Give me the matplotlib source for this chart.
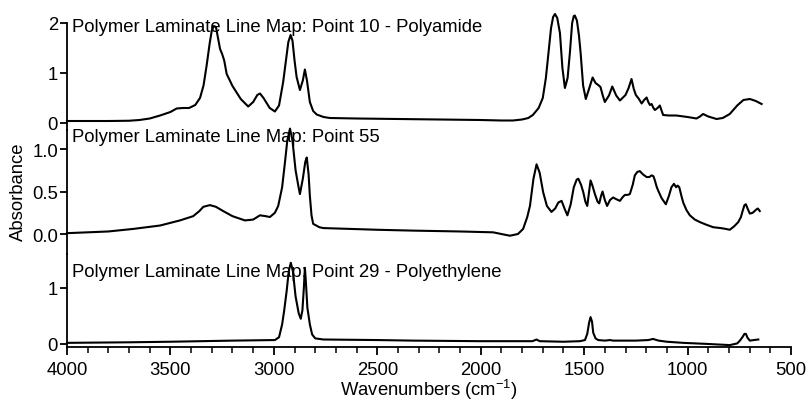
import numpy as np
import matplotlib.pyplot as plt
from matplotlib.ticker import MultipleLocator, FixedLocator, FormatStrFormatter

plt.rcParams['font.family'] = ['Liberation Sans', 'DejaVu Sans']
plt.rcParams['mathtext.fontset'] = 'custom'
plt.rcParams['mathtext.rm'] = 'Liberation Sans'
plt.rcParams['mathtext.default'] = 'regular'

# -----------------------------
# Spectra (wavenumber, absorbance)
# -----------------------------
pa_wn = [4000, 3800, 3700, 3650, 3600, 3550, 3500, 3470, 3440, 3410, 3380, 3357, 3340,
         3325, 3310, 3300, 3290, 3280, 3270, 3260, 3250, 3240, 3228, 3200, 3160, 3124,
         3100, 3080, 3067, 3050, 3020, 2995, 2975, 2955, 2940, 2930, 2919, 2910, 2900,
         2890, 2874, 2860, 2850, 2840, 2826, 2810, 2793, 2760, 2729, 2600, 2400, 2200,
         2000, 1900, 1844, 1800, 1770, 1748, 1720, 1700, 1685, 1675, 1660, 1650, 1641,
         1630, 1617, 1605, 1593, 1580, 1569, 1558, 1550, 1545, 1535, 1525, 1517, 1505,
         1492, 1475, 1459, 1445, 1432, 1421, 1410, 1400, 1380, 1364, 1345, 1327, 1300,
         1285, 1271, 1260, 1250, 1235, 1222, 1210, 1198, 1190, 1182, 1174, 1165, 1158,
         1145, 1134, 1125, 1118, 1090, 1054, 1000, 957, 940, 925, 900, 860, 830, 796,
         760, 730, 699, 670, 642]
pa_abs = [0.04, 0.04, 0.045, 0.06, 0.09, 0.15, 0.22, 0.29, 0.30, 0.30, 0.36, 0.50, 0.75,
          1.15, 1.60, 1.85, 1.94, 1.92, 1.70, 1.48, 1.38, 1.25, 0.98, 0.74, 0.48, 0.33,
          0.42, 0.56, 0.59, 0.50, 0.30, 0.23, 0.35, 0.82, 1.30, 1.62, 1.76, 1.65, 1.25,
          0.92, 0.66, 0.85, 1.07, 0.85, 0.42, 0.24, 0.17, 0.12, 0.10, 0.09, 0.08, 0.07,
          0.06, 0.05, 0.05, 0.07, 0.10, 0.16, 0.30, 0.50, 0.90, 1.30, 1.90, 2.12, 2.18,
          2.10, 1.80, 1.10, 0.70, 0.90, 1.40, 2.00, 2.14, 2.15, 2.05, 1.75, 1.40, 0.75,
          0.48, 0.70, 0.91, 0.80, 0.76, 0.72, 0.55, 0.42, 0.55, 0.73, 0.55, 0.45, 0.56,
          0.70, 0.88, 0.68, 0.56, 0.48, 0.39, 0.46, 0.51, 0.42, 0.36, 0.38, 0.30, 0.26,
          0.30, 0.35, 0.24, 0.16, 0.15, 0.15, 0.12, 0.09, 0.13, 0.18, 0.13, 0.08, 0.10, 0.18,
          0.35, 0.46, 0.48, 0.44, 0.38]

p55_wn = [4000, 3800, 3680, 3550, 3454, 3390, 3360, 3341, 3309, 3280, 3245, 3200, 3140,
          3100, 3067, 3040, 3019, 2995, 2979, 2960, 2946, 2935, 2922, 2910, 2895, 2882,
          2874, 2860, 2848, 2841, 2832, 2826, 2818, 2810, 2780, 2761, 2500, 2326, 2100,
          1940, 1900, 1859, 1820, 1795, 1775, 1762, 1745, 1730, 1715, 1698, 1680, 1658,
          1640, 1625, 1609, 1595, 1581, 1565, 1550, 1536, 1528, 1515, 1504, 1494, 1485,
          1476, 1469, 1460, 1448, 1435, 1427, 1418, 1411, 1400, 1389, 1375, 1360, 1345,
          1327, 1315, 1303, 1290, 1279, 1265, 1255, 1243, 1231, 1215, 1198, 1185, 1174,
          1165, 1158, 1150, 1142, 1125, 1105, 1090, 1078, 1066, 1055, 1048, 1040, 1030,
          1021, 1005, 989, 965, 940, 910, 876, 840, 815, 796, 775, 755, 742, 734, 725,
          718, 710, 699, 685, 667, 660, 651]
p55_abs = [0.01, 0.03, 0.06, 0.10, 0.16, 0.21, 0.27, 0.32, 0.34, 0.32, 0.27, 0.21, 0.16,
           0.17, 0.22, 0.21, 0.20, 0.25, 0.33, 0.55, 0.85, 1.10, 1.24, 1.10, 0.75, 0.57,
           0.47, 0.65, 0.85, 0.90, 0.70, 0.45, 0.22, 0.12, 0.08, 0.07, 0.05, 0.04, 0.03,
           0.02, 0.00, -0.02, 0.00, 0.06, 0.20, 0.33, 0.65, 0.82, 0.72, 0.49, 0.33, 0.26,
           0.30, 0.37, 0.39, 0.30, 0.22, 0.35, 0.55, 0.64, 0.65, 0.58, 0.49, 0.38, 0.33,
           0.50, 0.63, 0.57, 0.47, 0.38, 0.36, 0.45, 0.50, 0.40, 0.33, 0.40, 0.43, 0.41,
           0.39, 0.43, 0.46, 0.46, 0.47, 0.58, 0.69, 0.73, 0.74, 0.70, 0.67, 0.67, 0.69,
           0.68, 0.63, 0.56, 0.51, 0.42, 0.35, 0.45, 0.55, 0.59, 0.55, 0.57, 0.55, 0.45,
           0.37, 0.28, 0.22, 0.17, 0.14, 0.11, 0.08, 0.07, 0.06, 0.05, 0.09, 0.14, 0.20,
           0.27, 0.34, 0.35, 0.30, 0.24, 0.25, 0.29, 0.30, 0.27]

pe_wn = [4000, 3700, 3500, 3200, 2995, 2975, 2960, 2950, 2938, 2928, 2918, 2908, 2895,
         2880, 2870, 2862, 2855, 2850, 2845, 2838, 2826, 2815, 2800, 2761, 2500, 2326,
         2000, 1800, 1750, 1730, 1715, 1600, 1520, 1496, 1485, 1476, 1469, 1462, 1456,
         1445, 1432, 1400, 1375, 1360, 1300, 1250, 1190, 1167, 1140, 1100, 1021, 900,
         796, 760, 747, 735, 725, 718, 710, 699, 680, 658]
pe_abs = [0.02, 0.03, 0.04, 0.06, 0.07, 0.12, 0.35, 0.60, 0.95, 1.30, 1.45, 1.30, 0.85,
          0.55, 0.45, 0.60, 1.00, 1.36, 1.10, 0.65, 0.35, 0.17, 0.10, 0.08, 0.07, 0.06,
          0.05, 0.05, 0.05, 0.08, 0.05, 0.04, 0.05, 0.07, 0.18, 0.38, 0.48, 0.40, 0.20,
          0.10, 0.07, 0.06, 0.07, 0.06, 0.06, 0.06, 0.07, 0.09, 0.06, 0.04, 0.02, 0.00,
          -0.02, 0.01, 0.06, 0.12, 0.18, 0.18, 0.11, 0.06, 0.07, 0.08]

titles = ["Polymer Laminate Line Map: Point 10 - Polyamide",
          "Polymer Laminate Line Map: Point 55",
          "Polymer Laminate Line Map: Point 29 - Polyethylene"]

W, H = 810, 402
fig = plt.figure(figsize=(W / 100, H / 100), dpi=100)
X0, X1 = 67, 791
FS = 13.3


def add_panel(top_px, bot_px, ylo, yhi, yticks, fmt):
    ax = fig.add_axes([X0 / W, 1 - bot_px / H, (X1 - X0) / W, (bot_px - top_px) / H])
    ax.set_xlim(4000, 500)
    ax.set_ylim(ylo, yhi)
    ax.patch.set_visible(False)
    for s in ("top", "right", "bottom"):
        ax.spines[s].set_visible(False)
    ax.spines["left"].set_linewidth(1.3)
    ax.yaxis.set_major_locator(FixedLocator(yticks))
    ax.yaxis.set_major_formatter(FormatStrFormatter(fmt))
    ax.tick_params(axis="y", length=5, width=1.3, pad=1.5, labelsize=FS)
    ax.tick_params(axis="x", bottom=False, labelbottom=False)
    return ax


ax1 = add_panel(24, 131, -0.14, 2.0, [0, 1, 2], "%d")
ax2 = add_panel(131, 255, -0.235, 1.2235, [0.0, 0.5, 1.0], "%.1f")
ax3 = add_panel(255, 348, -0.054, 1.607, [0, 1], "%d")

# bottom panel carries the wavenumber axis
ax3.spines["bottom"].set_visible(True)
ax3.spines["bottom"].set_linewidth(1.3)
ax3.xaxis.set_major_locator(MultipleLocator(500))
ax3.xaxis.set_minor_locator(MultipleLocator(100))
ax3.tick_params(axis="x", which="major", bottom=True, labelbottom=True,
                direction="out", length=6, width=1.3, pad=4, labelsize=FS)
ax3.tick_params(axis="x", which="minor", bottom=True, direction="out",
                length=4, width=1.1)

for ax, wn, ab in ((ax1, pa_wn, pa_abs), (ax2, p55_wn, p55_abs), (ax3, pe_wn, pe_abs)):
    ax.plot(wn, ab, color="black", lw=1.5, clip_on=False, zorder=3)

for ypx, t in zip((28, 137, 273), titles):
    fig.text(72 / W, 1 - ypx / H, t, fontsize=FS, va="center", ha="left")

fig.text(18.5 / W, 1 - 192 / H, "Absorbance", rotation=90, fontsize=FS,
         va="center", ha="center")
fig.text(429 / W, 1 - 396 / H, "Wavenumbers (cm$^{-1}$)", fontsize=FS,
         va="baseline", ha="center")

fig.savefig("out.png", dpi=100)
